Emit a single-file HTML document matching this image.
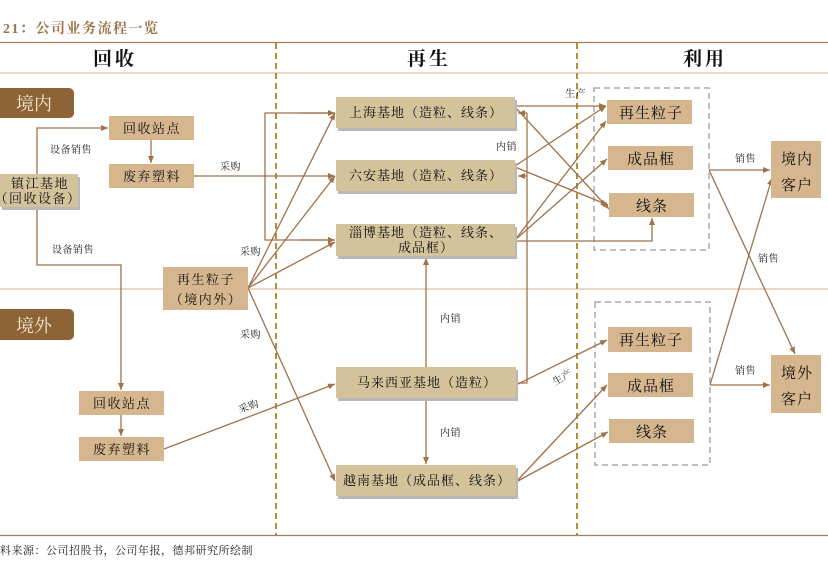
<!DOCTYPE html>
<html><head><meta charset="utf-8"><style>
html,body{margin:0;padding:0;background:#fff}
svg{display:block}
text{font-family:"Liberation Serif","Noto Serif CJK SC","Noto Sans CJK SC",serif;}
</style></head><body>
<svg width="828" height="568" viewBox="0 0 828 568" xmlns="http://www.w3.org/2000/svg">
<defs>
<marker id="a" markerWidth="8" markerHeight="8" refX="7" refY="4" orient="auto" markerUnits="userSpaceOnUse">
<path d="M0,1 L7,4 L0,7 z" fill="#a0724a"/></marker>
</defs>
<text x="3" y="33" font-size="14" font-weight="bold" fill="#9a7548" letter-spacing="1.5">21：公司业务流程一览</text>
<line x1="0" y1="42.5" x2="828" y2="42.5" stroke="#a0815a" stroke-width="1.2"/>
<line x1="0" y1="73" x2="828" y2="73" stroke="#e3cbb0" stroke-width="1.5"/>
<line x1="0" y1="289" x2="828" y2="289" stroke="#e3cbb0" stroke-width="1.5"/>
<line x1="0" y1="535.5" x2="828" y2="535.5" stroke="#a0815a" stroke-width="1.2"/>
<g font-size="19" text-anchor="middle" fill="#111" letter-spacing="3" font-weight="bold">
<text x="115" y="65">回收</text>
<text x="429" y="65">再生</text>
<text x="705" y="65">利用</text>
</g>
<line x1="276" y1="43" x2="276" y2="535" stroke="#b0922f" stroke-width="2" stroke-dasharray="6,4"/>
<line x1="577" y1="43" x2="577" y2="535" stroke="#b0922f" stroke-width="2" stroke-dasharray="6,4"/>
<text x="0" y="554" font-size="11" fill="#222" letter-spacing="0.5">料来源：公司招股书，公司年报，德邦研究所绘制</text>

<rect x="-8" y="88" width="82" height="30" rx="5" fill="#8e6437"/>
<text x="34" y="110" font-size="18" text-anchor="middle" fill="#f3e6d3">境内</text>
<rect x="-8" y="309" width="82" height="31" rx="5" fill="#8e6437"/>
<text x="34" y="332" font-size="18" text-anchor="middle" fill="#f3e6d3">境外</text>

<rect x="594" y="88" width="115" height="162" fill="none" stroke="#aaa" stroke-width="1.5" stroke-dasharray="6,4"/>
<rect x="595" y="302" width="115" height="163" fill="none" stroke="#aaa" stroke-width="1.5" stroke-dasharray="6,4"/>

<g fill="none" stroke="#a0724a" stroke-width="1.3">
<polyline points="37,174 37,128 108,128" marker-end="url(#a)"/>
<line x1="151" y1="140" x2="151" y2="163" marker-end="url(#a)"/>
<polyline points="37,207 37,265 121,265 121,390" marker-end="url(#a)"/>
<line x1="121" y1="415" x2="121" y2="436" marker-end="url(#a)"/>
<line x1="194" y1="176" x2="335" y2="176" marker-end="url(#a)"/>
<polyline points="335,113 265,113 265,240 335,240" />
<line x1="300" y1="113" x2="335" y2="113" marker-end="url(#a)"/>
<line x1="300" y1="240" x2="335" y2="240" marker-end="url(#a)"/>
<line x1="248" y1="288" x2="335" y2="113" marker-end="url(#a)"/>
<line x1="248" y1="288" x2="335" y2="176" marker-end="url(#a)"/>
<line x1="248" y1="288" x2="335" y2="242" marker-end="url(#a)"/>
<line x1="248" y1="288" x2="335" y2="481" marker-end="url(#a)"/>
<line x1="164" y1="449" x2="335" y2="384" marker-end="url(#a)"/>
<polyline points="516,383 527,383 527,176"/>
<line x1="527" y1="113" x2="527" y2="176"/>
<line x1="527" y1="113" x2="518" y2="113" marker-end="url(#a)"/>
<line x1="527" y1="176" x2="518" y2="176" marker-end="url(#a)"/>
<line x1="426" y1="367" x2="426" y2="258" marker-end="url(#a)"/>
<line x1="426" y1="398" x2="426" y2="464" marker-end="url(#a)"/>
<line x1="515" y1="106" x2="606" y2="106" marker-end="url(#a)"/>
<line x1="515" y1="107" x2="609" y2="209" marker-end="url(#a)"/>
<line x1="515" y1="166" x2="606" y2="106" marker-end="url(#a)"/>
<line x1="515" y1="167" x2="608" y2="205" marker-end="url(#a)"/>
<line x1="515" y1="240" x2="606" y2="121" marker-end="url(#a)"/>
<line x1="515" y1="240" x2="607" y2="159" marker-end="url(#a)"/>
<polyline points="515,241 652,241 652,218" marker-end="url(#a)"/>
<line x1="516" y1="385" x2="607" y2="340" marker-end="url(#a)"/>
<line x1="516" y1="482" x2="607" y2="385" marker-end="url(#a)"/>
<line x1="516" y1="482" x2="608" y2="432" marker-end="url(#a)"/>
<line x1="709" y1="170" x2="770" y2="170" marker-end="url(#a)"/>
<line x1="709" y1="170" x2="795" y2="354" marker-end="url(#a)"/>
<line x1="710" y1="385" x2="770" y2="385" marker-end="url(#a)"/>
<line x1="710" y1="385" x2="772" y2="178" marker-end="url(#a)"/>
</g>

<g font-size="10" fill="#222" letter-spacing="0.5">
<text x="50" y="153">设备销售</text>
<text x="52" y="253">设备销售</text>
<text x="220" y="170">采购</text>
<text x="240" y="255">采购</text>
<text x="240" y="338">采购</text>
<text x="238" y="410" transform="rotate(-20 248 406)">采购</text>
<text x="496" y="150">内销</text>
<text x="440" y="322">内销</text>
<text x="440" y="436">内销</text>
<text x="565" y="97">生产</text>
<text x="552" y="382" transform="rotate(-30 560 378)">生产</text>
<text x="735" y="162">销售</text>
<text x="758" y="262">销售</text>
<text x="735" y="374">销售</text>
</g>

<g fill="#d6b68e">
<rect x="109" y="116" width="85" height="24"/>
<rect x="109" y="164" width="85" height="24"/>
<rect x="163" y="267" width="85" height="43"/>
<rect x="79" y="391" width="85" height="24"/>
<rect x="79" y="437" width="85" height="24"/>
<rect x="607" y="100" width="85" height="24"/>
<rect x="608" y="146" width="85" height="24"/>
<rect x="609" y="193" width="85" height="24"/>
<rect x="608" y="327" width="84" height="25"/>
<rect x="608" y="373" width="85" height="24"/>
<rect x="609" y="419" width="85" height="24"/>
<rect x="771" y="141" width="50" height="57"/>
<rect x="771" y="355" width="50" height="58"/>
</g>
<g fill="#b8b8b8">
<rect x="2" y="177" width="78" height="33"/>
<rect x="338" y="100" width="179" height="31"/>
<rect x="338" y="163" width="179" height="31"/>
<rect x="338" y="227" width="179" height="32"/>
<rect x="338" y="370" width="180" height="31"/>
<rect x="338" y="468" width="180" height="31"/>
</g>
<g fill="#d4c29b">
<rect x="0" y="174" width="78" height="33"/>
<rect x="336" y="97" width="179" height="31"/>
<rect x="336" y="160" width="179" height="31"/>
<rect x="336" y="224" width="179" height="32"/>
<rect x="336" y="367" width="180" height="31"/>
<rect x="336" y="465" width="180" height="31"/>
</g>

<g font-size="13" fill="#111" text-anchor="middle" letter-spacing="1.5">
<text x="152" y="133">回收站点</text>
<text x="152" y="181">废弃塑料</text>
<text x="206" y="284">再生粒子</text>
<text x="206" y="304">（境内外）</text>
<text x="122" y="408">回收站点</text>
<text x="122" y="454">废弃塑料</text>
<text x="40" y="188">镇江基地</text>
<text x="38" y="203">（回收设备）</text>
</g>
<g font-size="13" fill="#111" text-anchor="middle" letter-spacing="1">
<text x="426" y="117">上海基地（造粒、线条）</text>
<text x="426" y="180">六安基地（造粒、线条）</text>
<text x="426" y="237">淄博基地（造粒、线条、</text>
<text x="426" y="252">成品框）</text>
<text x="427" y="387">马来西亚基地（造粒）</text>
<text x="427" y="485">越南基地（成品框、线条）</text>
</g>
<g font-size="15" fill="#111" text-anchor="middle" letter-spacing="1">
<text x="651" y="118">再生粒子</text>
<text x="651" y="164">成品框</text>
<text x="652" y="211">线条</text>
<text x="651" y="345">再生粒子</text>
<text x="651" y="391">成品框</text>
<text x="652" y="437">线条</text>
<text x="797" y="164">境内</text>
<text x="797" y="190">客户</text>
<text x="797" y="378">境外</text>
<text x="797" y="404">客户</text>
</g>
</svg>
</body></html>
